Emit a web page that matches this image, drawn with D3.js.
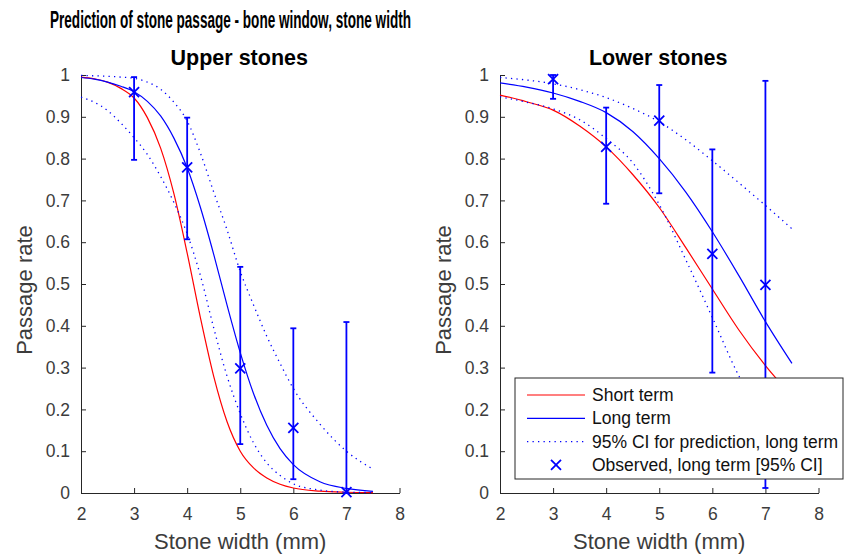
<!DOCTYPE html>
<html>
<head>
<meta charset="utf-8">
<script src="https://cdn.jsdelivr.net/npm/d3@7"></script>
<style>
  body { margin: 0; background: #fff; }
  svg { font-family: 'Liberation Sans', Arial, Helvetica, sans-serif; }
</style>
</head>
<body>
<svg id="chart" width="853" height="554"></svg>
<script>
const upperWidths = [2, 2.25, 2.5, 2.75, 3, 3.25, 3.5, 3.75, 4, 4.25, 4.5, 4.75, 5, 5.25, 5.5, 5.75, 6, 6.5, 7, 7.5];
const upperShort = [0.995, 0.991, 0.983, 0.968, 0.945, 0.898, 0.825, 0.716, 0.574, 0.419, 0.279, 0.171, 0.10, 0.06, 0.036, 0.021, 0.012, 0.0045, 0.0018, 0.0008];
const upperLong = [0.994, 0.990, 0.983, 0.973, 0.960, 0.937, 0.902, 0.849, 0.778, 0.683, 0.571, 0.45, 0.336, 0.238, 0.162, 0.106, 0.068, 0.027, 0.011, 0.004];
const upperCiHigh = [0.999, 0.998, 0.997, 0.995, 0.992, 0.983, 0.966, 0.935, 0.89, 0.813, 0.72, 0.63, 0.53, 0.45, 0.375, 0.31, 0.25, 0.165, 0.10, 0.057];
const upperCiLow = [0.947, 0.935, 0.915, 0.885, 0.85, 0.81, 0.757, 0.695, 0.62, 0.52, 0.395, 0.28, 0.19, 0.12, 0.072, 0.042, 0.022, 0.007, 0.002, 0.001];

const lowerWidths = [2, 2.5, 3, 3.5, 4, 4.5, 5, 5.5, 6, 6.5, 7, 7.5];
const lowerShort = [0.952, 0.936, 0.916, 0.878, 0.828, 0.762, 0.683, 0.587, 0.488, 0.39, 0.305, 0.232];
const lowerLong = [0.981, 0.971, 0.957, 0.937, 0.91, 0.865, 0.80, 0.72, 0.625, 0.52, 0.41, 0.31];
const lowerCiHigh = [0.994, 0.988, 0.979, 0.965, 0.946, 0.92, 0.888, 0.845, 0.795, 0.742, 0.688, 0.632];
const lowerCiLow = [0.948, 0.935, 0.919, 0.893, 0.848, 0.79, 0.69, 0.558, 0.42, 0.28, 0.175, 0.10];

// Observed long-term passage with 95% CI
const obsWidths = [3, 4, 5, 6, 7];
const upperObs = [0.959, 0.779, 0.298, 0.156, 0.002];
const upperObsLow = [0.797, 0.607, 0.117, 0.033, 0];
const upperObsHigh = [0.995, 0.898, 0.541, 0.394, 0.409];
const lowerObs = [0.99, 0.828, 0.891, 0.572, 0.498];
const lowerObsLow = [0.943, 0.692, 0.717, 0.288, 0.012];
const lowerObsHigh = [1.0, 0.922, 0.976, 0.822, 0.986];

const legendLabels = ['Short term', 'Long term', '95% CI for prediction, long term', 'Observed, long term [95% CI]'];

const AXIS_COLOR = '#262626';
const RED = '#ff0000';
const BLUE = '#0000ff';
const TOP = 75;
const PLOT_W = 318.5;
const PLOT_H = 418;

const panels = [
  { title: 'Upper stones', left: 81, widths: upperWidths, short: upperShort, long: upperLong,
    hi: upperCiHigh, lo: upperCiLow, obs: upperObs, obsLo: upperObsLow, obsHi: upperObsHigh },
  { title: 'Lower stones', left: 500, widths: lowerWidths, short: lowerShort, long: lowerLong,
    hi: lowerCiHigh, lo: lowerCiLow, obs: lowerObs, obsLo: lowerObsLow, obsHi: lowerObsHigh },
];

const svg = d3.select('#chart');

const xScale = d3.scaleLinear().domain([2, 8]).range([0, PLOT_W]);
const yScale = d3.scaleLinear().domain([0, 1]).range([PLOT_H, 0]);

// Figure title (rendered narrow like the original)
svg.append('text')
  .attr('x', 50)
  .attr('y', 28)
  .attr('font-size', 23)
  .attr('font-weight', 'bold')
  .attr('fill', '#000')
  .attr('textLength', 361)
  .attr('lengthAdjust', 'spacingAndGlyphs')
  .text('Prediction of stone passage - bone window, stone width');

panels.forEach((p, idx) => {
  const g = svg.append('g').attr('transform', `translate(${p.left},${TOP})`);

  // Axes, ticks pointing inward
  const xAxis = d3.axisBottom(xScale)
    .tickValues([2, 3, 4, 5, 6, 7, 8])
    .tickSizeInner(-5)
    .tickSizeOuter(0)
    .tickPadding(15)
    .tickFormat(d3.format('d'));
  const yAxis = d3.axisLeft(yScale)
    .tickValues(yScale.ticks(10))
    .tickSizeInner(-5)
    .tickSizeOuter(0)
    .tickPadding(11)
    .tickFormat(d3.format('~g'));

  const gx = g.append('g')
    .attr('transform', `translate(0,${PLOT_H})`)
    .call(xAxis);
  const gy = g.append('g').call(yAxis);
  [gx, gy].forEach((ax) => {
    ax.attr('color', AXIS_COLOR)
      .attr('font-family', null)
      .attr('font-size', 17.5);
    ax.select('.domain').attr('stroke-width', 1);
    ax.selectAll('.tick text').attr('fill', '#3c3c3c');
  });

  // Axis labels
  g.append('text')
    .attr('x', PLOT_W / 2)
    .attr('y', PLOT_H + 56)
    .attr('text-anchor', 'middle')
    .attr('font-size', 22)
    .attr('fill', '#3c3c3c')
    .text('Stone width (mm)');
  g.append('text')
    .attr('transform', `translate(-49,${PLOT_H / 2 + 6}) rotate(-90)`)
    .attr('text-anchor', 'middle')
    .attr('font-size', 22)
    .attr('fill', '#3c3c3c')
    .text('Passage rate');

  // Panel title
  g.append('text')
    .attr('x', PLOT_W / 2 - 1)
    .attr('y', -10)
    .attr('text-anchor', 'middle')
    .attr('font-size', 21.5)
    .attr('font-weight', 'bold')
    .attr('fill', '#000')
    .text(p.title);

  const line = d3.line()
    .x(d => xScale(d[0]))
    .y(d => yScale(d[1]))
    .curve(d3.curveMonotoneX);
  const pairs = vals => p.widths.map((w, i) => [w, vals[i]]);

  g.append('path').attr('d', line(pairs(p.short)))
    .attr('fill', 'none').attr('stroke', RED).attr('stroke-width', 1.2);
  g.append('path').attr('d', line(pairs(p.long)))
    .attr('fill', 'none').attr('stroke', BLUE).attr('stroke-width', 1.2);
  [p.hi, p.lo].forEach((vals) => {
    g.append('path').attr('d', line(pairs(vals)))
      .attr('fill', 'none').attr('stroke', BLUE).attr('stroke-width', 1.3)
      .attr('stroke-dasharray', '1.3,4.2');
  });

  // Error bars with x markers
  const bars = g.selectAll('.bar')
    .data(obsWidths.map((w, i) => ({ w, v: p.obs[i], lo: p.obsLo[i], hi: p.obsHi[i] })))
    .enter()
    .append('g')
    .attr('class', 'bar')
    .attr('stroke', BLUE)
    .attr('stroke-width', 1.8);
  bars.append('line')
    .attr('x1', d => xScale(d.w)).attr('x2', d => xScale(d.w))
    .attr('y1', d => yScale(d.lo)).attr('y2', d => yScale(d.hi));
  ['lo', 'hi'].forEach((k) => {
    bars.append('line')
      .attr('x1', d => xScale(d.w) - 3).attr('x2', d => xScale(d.w) + 3)
      .attr('y1', d => yScale(d[k])).attr('y2', d => yScale(d[k]));
  });
  bars.append('path')
    .attr('d', (d) => {
      const cx = xScale(d.w);
      const cy = yScale(d.v);
      return `M${cx - 5},${cy - 5}L${cx + 5},${cy + 5}M${cx - 5},${cy + 5}L${cx + 5},${cy - 5}`;
    });

  // Legend in the right panel
  if (idx === 1) {
    const lg = svg.append('g').attr('transform', 'translate(515,378)');
    lg.append('rect')
      .attr('width', 328).attr('height', 101)
      .attr('fill', '#fff').attr('stroke', AXIS_COLOR).attr('stroke-width', 1);
    legendLabels.forEach((label, i) => {
      const yy = 17 + i * 23.3;
      const row = lg.append('g').attr('transform', `translate(0,${yy})`);
      if (i < 3) {
        row.append('line')
          .attr('x1', 12).attr('x2', 70).attr('y1', 0).attr('y2', 0)
          .attr('stroke', i === 0 ? RED : BLUE)
          .attr('stroke-width', i === 2 ? 1.3 : 1.2)
          .attr('stroke-dasharray', i === 2 ? '1.3,4.2' : null);
      } else {
        row.append('path')
          .attr('d', 'M36,-5L46,5M36,5L46,-5')
          .attr('stroke', BLUE).attr('stroke-width', 1.8);
      }
      row.append('text')
        .attr('x', 77).attr('y', 6)
        .attr('font-size', 17.5)
        .attr('fill', '#111')
        .text(label);
    });
  }
});
</script>
</body>
</html>
